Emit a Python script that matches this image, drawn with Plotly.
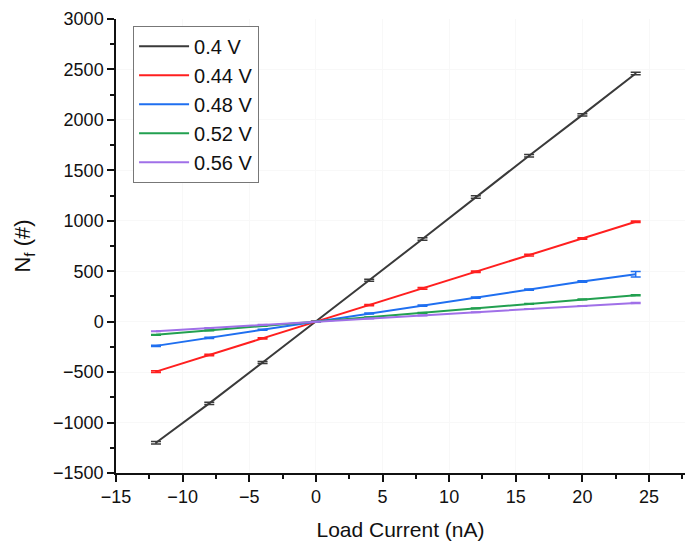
import plotly.graph_objects as go

# Load current sweep (nA)
load_current = [-12, -8, -4, 0, 4, 8, 12, 16, 20, 24]

# N_f for each supply voltage
nf_040 = [-1200, -810, -405, 0, 410, 820, 1235, 1645, 2050, 2460]
nf_044 = [-495, -330, -165, 0, 165, 330, 495, 660, 825, 990]
nf_048 = [-240, -160, -80, 0, 80, 158, 238, 318, 398, 470]
nf_052 = [-130, -87, -43, 0, 44, 88, 132, 176, 220, 262]
nf_056 = [-95, -63, -31, 0, 31, 62, 94, 125, 156, 185]

# Standard deviations
err_040 = [12, 12, 10, 4, 10, 12, 12, 12, 12, 12]
err_044 = [8, 8, 6, 3, 6, 8, 8, 8, 8, 8]
err_048 = [6, 6, 5, 2, 5, 6, 6, 6, 8, 28]
err_052 = [4, 4, 3, 2, 3, 4, 4, 4, 4, 5]
err_056 = [3, 3, 3, 2, 3, 3, 3, 3, 3, 4]

labels = ["0.4 V", "0.44 V", "0.48 V", "0.52 V", "0.56 V"]
series = [nf_040, nf_044, nf_048, nf_052, nf_056]
errors = [err_040, err_044, err_048, err_052, err_056]
colors = ["#3a3a3a", "#ff1f1f", "#1f6ff0", "#22a050", "#a070e8"]

FONT = "Liberation Sans, Arial, sans-serif"

fig = go.Figure()
for name, ys, es, c in zip(labels, series, errors, colors):
    fig.add_trace(go.Scatter(
        x=load_current, y=ys, name=name, mode="lines",
        line=dict(color=c, width=2),
        error_y=dict(type="data", array=es, visible=True,
                     color=c, thickness=1.5, width=5),
    ))

axis_common = dict(
    showline=True, linecolor="#111111", linewidth=1.5,
    ticks="outside", ticklen=7, tickwidth=1.5, tickcolor="#111111",
    showgrid=True, gridcolor="#f8f8f8", zeroline=False,
    tickfont=dict(family=FONT, size=18, color="#111111"),
    mirror=False,
)

fig.update_xaxes(
    **axis_common,
    range=[-15, 27.7], tick0=-15, dtick=5,
    minor=dict(ticks="outside", ticklen=4, tickwidth=1.5, tickcolor="#111111",
               dtick=2.5, showgrid=False),
    title=dict(text="Load Current (nA)", standoff=16,
               font=dict(family=FONT, size=21, color="#111111")),
)
fig.update_yaxes(
    **axis_common,
    range=[-1500, 3000], tick0=-1500, dtick=500,
    minor=dict(ticks="outside", ticklen=4, tickwidth=1.5, tickcolor="#111111",
               dtick=250, showgrid=False),
    title=dict(text="N<sub>f</sub> (#)", standoff=16,
               font=dict(family=FONT, size=22, color="#111111")),
)

fig.update_layout(
    width=694, height=548,
    margin=dict(l=116, r=9, t=15, b=75),
    plot_bgcolor="white", paper_bgcolor="white",
    showlegend=True,
    legend=dict(
        x=0.03, y=0.985, xanchor="left", yanchor="top",
        bgcolor="white", bordercolor="#777777", borderwidth=1,
        font=dict(family=FONT, size=20, color="#111111"),
        itemwidth=50, tracegroupgap=0,
    ),
)

fig.write_html("out.html")
